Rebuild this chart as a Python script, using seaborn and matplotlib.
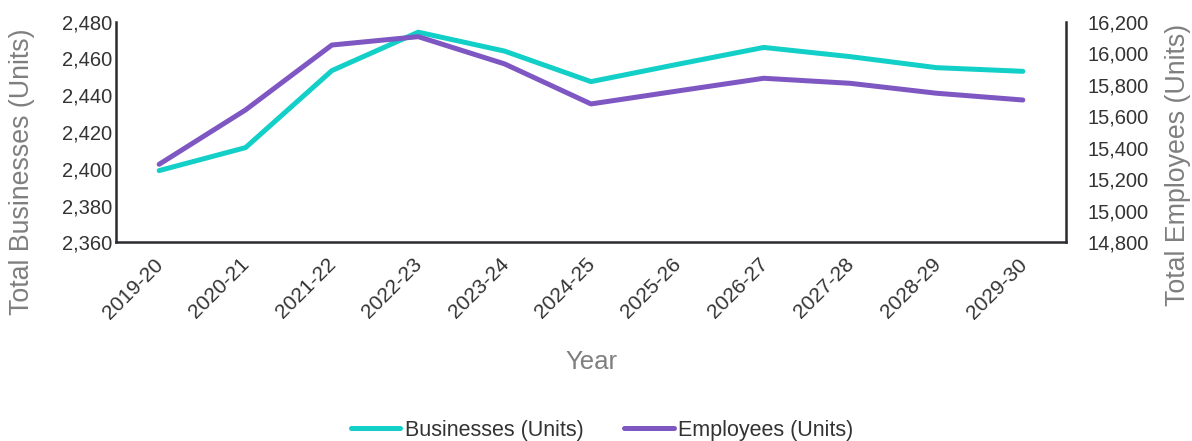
import matplotlib
matplotlib.use("Agg")
import matplotlib.pyplot as plt
import seaborn as sns
import pandas as pd
from matplotlib.ticker import FuncFormatter, MultipleLocator
from matplotlib.lines import Line2D
from matplotlib.transforms import ScaledTranslation

years = ["2019-20", "2020-21", "2021-22", "2022-23", "2023-24", "2024-25",
         "2025-26", "2026-27", "2027-28", "2028-29", "2029-30"]
businesses = [2399, 2411.5, 2453.4, 2474.3, 2464, 2447.4, 2456.8, 2466, 2461, 2455, 2453]
employees = [15295, 15640, 16052, 16105, 15932, 15678, 15760, 15841, 15809, 15746, 15703]

teal = "#12CFC7"
purple = "#7E57C2"

sns.set_theme(style="white")
plt.rcParams['font.family'] = ['Liberation Sans', 'DejaVu Sans']

df = pd.DataFrame({"Year": years, "Businesses": businesses, "Employees": employees})

fig = plt.figure(figsize=(11.92, 4.41), dpi=100)
ax = fig.add_axes([0.0973, 0.4506, 0.797, 0.5002])
ax2 = ax.twinx()

sns.lineplot(data=df, x="Year", y="Businesses", ax=ax, color=teal, linewidth=3.6,
             sort=False, solid_capstyle="round")
sns.lineplot(data=df, x="Year", y="Employees", ax=ax2, color=purple, linewidth=3.6,
             sort=False, solid_capstyle="round")

ax.set_xlim(-0.5, len(years) - 0.5)
ax.set_ylim(2360, 2480)
ax2.set_ylim(14800, 16200)
ax.yaxis.set_major_locator(MultipleLocator(20))
ax2.yaxis.set_major_locator(MultipleLocator(200))
fmt = FuncFormatter(lambda v, p: f"{v:,.0f}")
ax.yaxis.set_major_formatter(fmt)
ax2.yaxis.set_major_formatter(fmt)

tick_color = "#333333"
label_color = "#7F7F7F"
for a in (ax, ax2):
    a.tick_params(axis="both", length=0, labelsize=14.5, colors=tick_color)
    for s in a.spines.values():
        s.set_visible(False)
    a.grid(False)
ax.tick_params(axis="y", pad=3)
ax2.tick_params(axis="y", pad=15.5)

ax.spines["left"].set_visible(True)
ax.spines["bottom"].set_visible(True)
ax2.spines["right"].set_visible(True)
for s in (ax.spines["left"], ax.spines["bottom"], ax2.spines["right"]):
    s.set_color("#2b2b30")
    s.set_linewidth(1.8)

ax.set_xticks(range(len(years)))
ax.set_xticklabels(years, rotation=45, ha="right", rotation_mode="anchor")
ax.tick_params(axis="x", pad=9, labelsize=15)
shift = ScaledTranslation(-4 / 72, 0, fig.dpi_scale_trans)
for lbl in ax.get_xticklabels():
    lbl.set_transform(lbl.get_transform() + shift)

ax.set_xlabel("Year", fontsize=18.5, color=label_color)
ax.set_ylabel("Total Businesses (Units)", fontsize=19.3, color=label_color)
ax2.set_ylabel("Total Employees (Units)", fontsize=19.3, color=label_color)
ax.xaxis.label.set_va("center")
ax.yaxis.label.set_va("center")
ax2.yaxis.label.set_va("center")
ax.xaxis.set_label_coords(0.5, -0.543)
ax.yaxis.set_label_coords(-0.099, 0.318)
ax2.yaxis.set_label_coords(1.118, 0.35)

handles = [Line2D([0], [0], color=teal, lw=3.6, solid_capstyle="round"),
           Line2D([0], [0], color=purple, lw=3.6, solid_capstyle="round")]
fig.legend(handles, ["Businesses (Units)", "Employees (Units)"], loc="center",
           bbox_to_anchor=(0.505, 0.024), ncol=2, frameon=False, fontsize=15.5,
           handlelength=2.3, handletextpad=0.2, columnspacing=1.9,
           labelcolor=tick_color)

fig.savefig("out.png", dpi=100)
